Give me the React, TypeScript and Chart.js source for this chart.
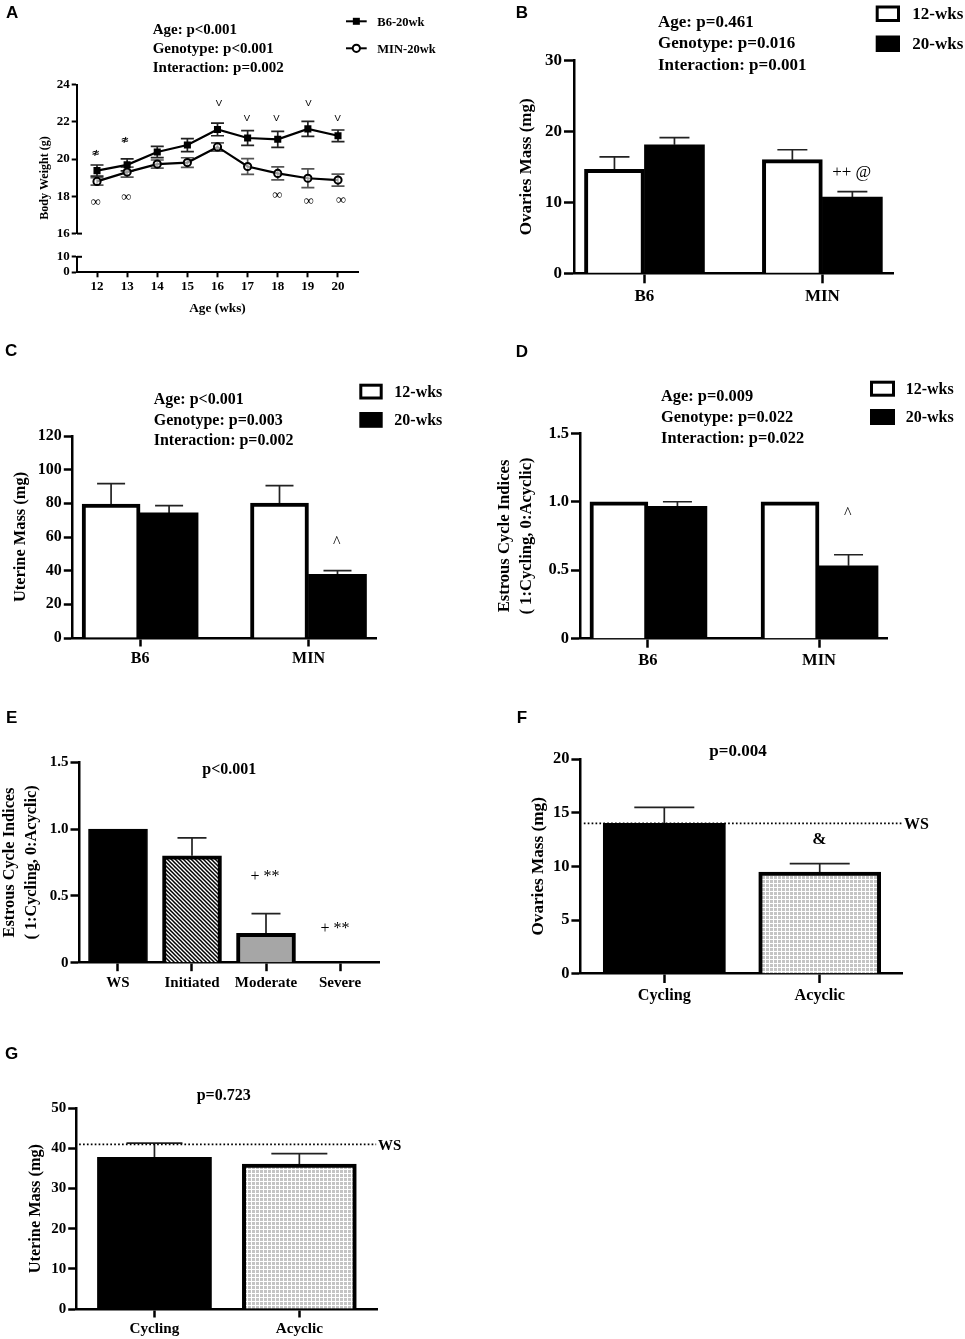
import { useEffect, useRef } from "react"
import { Chart, registerables } from "chart.js"

Chart.register(...registerables)
Chart.defaults.color = "#000"

const SERIF = "'Liberation Serif'"
const SANS = "'Liberation Sans'"

// Panel A
const weeks = [12, 13, 14, 15, 16, 17, 18, 19, 20]
const b6Weight = [19.38, 19.69, 20.38, 20.75, 21.59, 21.13, 21.06, 21.62, 21.25]
const b6WeightErr = [0.3, 0.32, 0.3, 0.35, 0.34, 0.4, 0.43, 0.4, 0.31]
const minWeight = [18.8, 19.3, 19.73, 19.81, 20.65, 19.6, 19.23, 18.97, 18.87]
const minWeightErr = [0.2, 0.27, 0.22, 0.26, 0.22, 0.42, 0.35, 0.5, 0.32]

// Panels B, C, D
const genotypes = ["B6", "MIN"]
const ovaries12 = [14.65, 16]
const ovaries12Err = [1.75, 1.4]
const ovaries20 = [18.1, 10.75]
const ovaries20Err = [1, 0.75]
const uterine12 = [79.6, 80.2]
const uterine12Err = [12.1, 10.3]
const uterine20 = [74.3, 37.8]
const uterine20Err = [4.3, 2.2]
const cycle12 = [1, 1]
const cycle12Err = [0, 0]
const cycle20 = [0.967, 0.533]
const cycle20Err = [0.033, 0.08]

// Panel E
const severity = ["WS", "Initiated", "Moderate", "Severe"]
const severityCycle = [1, 0.8, 0.22, 0]
const severityCycleErr = [0, 0.135, 0.147, 0]

// Panels F, G
const cycleStatus = ["Cycling", "Acyclic"]
const statusOvaries = [14, 9.47]
const statusOvariesErr = [1.5, 0.78]
const statusUterine = [37.8, 36.1]
const statusUterineErr = [3.5, 2.6]
const wsOvaries = 14
const wsUterine = 41

const points = (values: number[]) => values.map((y, i) => ({ x: i + 1, y }))
const positions = (labels: string[]) => labels.map((_, i) => i + 1)

function tile(size: number, paint: (c: CanvasRenderingContext2D) => void) {
  const el = document.createElement("canvas")
  el.width = size
  el.height = size
  const c = el.getContext("2d")!
  c.fillStyle = "#fff"
  c.fillRect(0, 0, size, size)
  paint(c)
  return c.createPattern(el, "repeat")!
}

const hatch = () =>
  tile(4, (c) => {
    c.strokeStyle = "#000"
    c.lineWidth = 1.5
    c.beginPath()
    c.moveTo(-1, -1)
    c.lineTo(5, 5)
    c.moveTo(-1, 3)
    c.lineTo(1, 5)
    c.moveTo(3, -1)
    c.lineTo(5, 1)
    c.stroke()
  })

const dots = () =>
  tile(4, (c) => {
    c.fillStyle = "#c4c4c4"
    c.fillRect(0, 0, 3, 3)
  })

const openBars = (values: number[], errors: number[], capWidth: number, barThickness: number) => ({
  type: "bar",
  data: points(values),
  errors,
  capWidth,
  barThickness,
  backgroundColor: "#fff",
  borderColor: "#000",
  borderWidth: 4,
  order: 1,
})

const solidBars = (values: number[], errors: number[], capWidth: number, barThickness: number) => ({
  type: "bar",
  data: points(values),
  errors,
  capWidth,
  barThickness,
  backgroundColor: "#000",
  borderWidth: 0,
  order: 1,
})

const wsLine = (value: number, from: number, to: number) => ({
  type: "line",
  data: [
    { x: from, y: value },
    { x: to, y: value },
  ],
  borderColor: "#000",
  borderWidth: 1.8,
  borderDash: [1.7, 2.2],
  pointRadius: 0,
  order: 0,
})

const stat = (text: string, x: number, y: number, size: number, weight = "bold", align = "left") => ({
  text,
  x,
  y,
  size,
  weight,
  align,
})

const stats = (lines: string[], x: number, ys: number[], size: number) =>
  lines.map((line, i) => stat(line, x, ys[i], size))

const letter = (text: string, x: number, y: number) => ({
  text,
  x,
  y,
  size: 17,
  weight: "bold",
  align: "left",
  family: SANS,
})

const boxLegend = (x: number, w: number, h: number, ys: number[], textX: number, textYs: number[], size: number) => ({
  swatches: [
    { x, y: ys[0], w, h, open: true },
    { x, y: ys[1], w, h, open: false },
  ],
  texts: [stat("12-wks", textX, textYs[0], size), stat("20-wks", textX, textYs[1], size)],
})

function buildPanels() {
  const legendB = boxLegend(875.7, 24.3, 16.5, [5.5, 35.5], 912.3, [13.7, 43.3], 17)
  const legendC = boxLegend(359.3, 23.4, 15.8, [383.7, 412], 394.3, [391.7, 420], 16)
  const legendD = boxLegend(870, 25, 16, [380.7, 409], 905.7, [389, 417], 16)

  return [
    // A, upper part of the broken axis
    {
      rect: { x: 0, y: 0, w: 480, h: 247 },
      plot: { l: 77, t: 84.5, r: 358, b: 240.3 },
      yMin: 16,
      yMax: 24,
      yStep: 2,
      xMin: 11.336,
      xMax: 20.664,
      xTicks: null,
      tickSize: 13,
      tickLen: 5.3,
      axisWidth: 2,
      breakValue: 16,
      datasets: [
        {
          type: "line",
          data: weeks.map((x, i) => ({ x, y: b6Weight[i] })),
          errors: b6WeightErr,
          capWidth: 13,
          twoSided: true,
          borderColor: "#000",
          borderWidth: 2.2,
          tension: 0,
          pointStyle: "rect",
          pointRadius: 5,
          pointBackgroundColor: "#000",
          pointBorderWidth: 0,
        },
        {
          type: "line",
          data: weeks.map((x, i) => ({ x, y: minWeight[i] })),
          errors: minWeightErr,
          capWidth: 13,
          errColor: "#555",
          twoSided: true,
          borderColor: "#000",
          borderWidth: 2.2,
          tension: 0,
          pointStyle: "circle",
          pointRadius: 3.6,
          pointBackgroundColor: "rgba(255,255,255,0.6)",
          pointBorderColor: "#000",
          pointBorderWidth: 2,
        },
      ],
      texts: [
        letter("A", 6, 12.7),
        ...stats(["Age: p<0.001", "Genotype: p<0.001", "Interaction: p=0.002"], 152.7, [29.3, 48.3, 67.3], 15),
        stat("B6-20wk", 377.3, 21.3, 12.5),
        stat("MIN-20wk", 377.3, 48.3, 12.5),
        { ...stat("Body Weight (g)", 44, 178, 12, "bold", "center"), rotate: true },
        { ...stat("≉", 95.7, 152.3, 10, "bold", "center"), family: "'DejaVu Sans'" },
        { ...stat("≉", 125, 139, 10, "bold", "center"), family: "'DejaVu Sans'" },
        stat("∞", 95.7, 201.3, 14, "normal", "center"),
        stat("∞", 126.3, 196, 14, "normal", "center"),
        stat("∞", 277.3, 194.3, 14, "normal", "center"),
        stat("∞", 308.7, 200.3, 14, "normal", "center"),
        stat("∞", 341, 199, 14, "normal", "center"),
        { ...stat("V", 219, 102, 9.5, "normal", "center"), family: SANS },
        { ...stat("V", 247, 117.3, 9.5, "normal", "center"), family: SANS },
        { ...stat("V", 276.3, 117.3, 9.5, "normal", "center"), family: SANS },
        { ...stat("V", 308.3, 102, 9.5, "normal", "center"), family: SANS },
        { ...stat("V", 337.7, 117.3, 9.5, "normal", "center"), family: SANS },
      ],
      keys: [
        { x1: 346, x2: 366.7, y: 21.3, marker: "square" },
        { x1: 346, x2: 366.7, y: 48.3, marker: "circle" },
      ],
    },
    // A, lower part of the broken axis with the week labels
    {
      rect: { x: 0, y: 247, w: 480, h: 70 },
      plot: { l: 77, t: 254.7, r: 358, b: 272 },
      yMin: 0,
      yMax: 10,
      yStep: 10,
      xMin: 11.336,
      xMax: 20.664,
      xTicks: weeks,
      xLabels: weeks.map(String),
      xFont: 13,
      xPad: 1.7,
      xTitle: "Age (wks)",
      tickSize: 13,
      tickLen: 5.3,
      axisWidth: 2,
      breakValue: 10,
      datasets: [{ type: "line", data: [] }],
    },
    // B
    {
      rect: { x: 490, y: 0, w: 475, h: 330 },
      plot: { l: 574, t: 60.3, r: 893, b: 273.3 },
      yMin: 0,
      yMax: 30,
      yStep: 10,
      xMin: 0.604,
      xMax: 2.397,
      xTicks: positions(genotypes),
      xLabels: genotypes,
      xFont: 17,
      xPad: 3,
      tickSize: 17,
      tickLen: 10,
      axisWidth: 2.5,
      yTitle: "Ovaries Mass (mg)",
      titleSize: 17,
      titleX: 527,
      titleLine: 20,
      datasets: [openBars(ovaries12, ovaries12Err, 30, 60), solidBars(ovaries20, ovaries20Err, 30, 60)],
      swatches: legendB.swatches,
      texts: [
        letter("B", 515.7, 12),
        ...stats(["Age: p=0.461", "Genotype: p=0.016", "Interaction: p=0.001"], 658, [21.7, 42.7, 64.3], 17),
        ...legendB.texts,
        stat("++ @", 851.7, 171.7, 17, "normal", "center"),
      ],
    },
    // C
    {
      rect: { x: 0, y: 340, w: 480, h: 340 },
      plot: { l: 72.3, t: 436, r: 376.7, b: 638 },
      yMin: 0,
      yMax: 120,
      yStep: 20,
      xMin: 0.5975,
      xMax: 2.405,
      xTicks: positions(genotypes),
      xLabels: genotypes,
      xFont: 16,
      xPad: 2.7,
      tickSize: 16,
      tickLen: 8.5,
      axisWidth: 2.5,
      yTitle: "Uterine Mass (mg)",
      titleSize: 16.4,
      titleX: 21,
      titleLine: 20,
      datasets: [openBars(uterine12, uterine12Err, 28, 58), solidBars(uterine20, uterine20Err, 28, 58)],
      swatches: legendC.swatches,
      texts: [
        letter("C", 5, 350.7),
        ...stats(["Age: p<0.001", "Genotype: p=0.003", "Interaction: p=0.002"], 153.7, [399.3, 419.7, 440], 16),
        ...legendC.texts,
        stat("^", 336.7, 542, 16, "normal", "center"),
      ],
    },
    // D
    {
      rect: { x: 490, y: 340, w: 475, h: 340 },
      plot: { l: 580, t: 433.3, r: 887.3, b: 638.7 },
      yMin: 0,
      yMax: 1.5,
      yStep: 0.5,
      xMin: 0.603,
      xMax: 2.399,
      xTicks: positions(genotypes),
      xLabels: genotypes,
      xFont: 16.5,
      xPad: 2.7,
      tickSize: 16.5,
      tickLen: 9,
      axisWidth: 2.5,
      yTitle: ["Estrous Cycle Indices", "( 1:Cycling, 0:Acyclic)"],
      titleSize: 16.6,
      titleX: 505,
      titleLine: 22,
      datasets: [openBars(cycle12, cycle12Err, 29, 58), solidBars(cycle20, cycle20Err, 29, 59)],
      swatches: legendD.swatches,
      texts: [
        letter("D", 515.7, 351),
        ...stats(["Age: p=0.009", "Genotype: p=0.022", "Interaction: p=0.022"], 661, [396, 417, 437.7], 16.4),
        ...legendD.texts,
        stat("^", 847.7, 513, 16, "normal", "center"),
      ],
    },
    // E
    {
      rect: { x: -8, y: 700, w: 488, h: 310 },
      plot: { l: 79, t: 762.3, r: 379, b: 962.7 },
      yMin: 0,
      yMax: 1.5,
      yStep: 0.5,
      xMin: 0.473,
      xMax: 4.527,
      xTicks: positions(severity),
      xLabels: severity,
      xFont: 15,
      xPad: 3.3,
      tickSize: 15,
      tickLen: 8.5,
      axisWidth: 2.5,
      yTitle: ["Estrous Cycle Indices", "( 1:Cycling, 0:Acyclic)"],
      titleSize: 16.3,
      titleX: 10,
      titleLine: 21.7,
      datasets: [
        {
          type: "bar",
          data: points(severityCycle),
          errors: severityCycleErr,
          capWidth: 29,
          barThickness: 59,
          backgroundColor: ["#000", hatch(), "#a6a6a6", "rgba(0,0,0,0)"],
          borderColor: "#000",
          borderWidth: [1, 4, 4, 0],
        },
      ],
      texts: [
        letter("E", 6, 717),
        stat("p<0.001", 229.3, 768.7, 16, "bold", "center"),
        stat("+ **", 265, 876, 16, "normal", "center"),
        stat("+ **", 335, 927.3, 16, "normal", "center"),
      ],
    },
    // F
    {
      rect: { x: 490, y: 700, w: 475, h: 310 },
      plot: { l: 580.7, t: 759, r: 902.7, b: 973.7 },
      yMin: 0,
      yMax: 20,
      yStep: 5,
      xMin: 0.462,
      xMax: 2.534,
      xTicks: positions(cycleStatus),
      xLabels: cycleStatus,
      xFont: 16.2,
      xPad: 2.8,
      tickSize: 16.5,
      tickLen: 9.3,
      axisWidth: 2.5,
      yTitle: "Ovaries Mass (mg)",
      titleSize: 17.2,
      titleX: 539,
      titleLine: 20,
      datasets: [
        wsLine(wsOvaries, 0.482, 2.528),
        {
          type: "bar",
          data: points(statusOvaries),
          errors: statusOvariesErr,
          capWidth: 60,
          barThickness: 122,
          backgroundColor: ["#000", dots()],
          borderColor: "#000",
          borderWidth: [0, 4],
          order: 1,
        },
      ],
      texts: [
        letter("F", 516.7, 717),
        stat("p=0.004", 738, 750.7, 17, "bold", "center"),
        stat("&", 819.3, 839, 17, "bold", "center"),
        stat("WS", 904, 824, 16),
      ],
    },
    // G
    {
      rect: { x: 0, y: 1030, w: 480, h: 309 },
      plot: { l: 76.7, t: 1108.3, r: 377.3, b: 1309 },
      yMin: 0,
      yMax: 50,
      yStep: 10,
      xMin: 0.4634,
      xMax: 2.538,
      xTicks: positions(cycleStatus),
      xLabels: cycleStatus,
      xFont: 15.2,
      xPad: 2.9,
      tickSize: 15,
      tickLen: 8.5,
      axisWidth: 2.5,
      yTitle: "Uterine Mass (mg)",
      titleSize: 16.3,
      titleX: 36,
      titleLine: 20,
      datasets: [
        wsLine(wsUterine, 0.48, 2.53),
        {
          type: "bar",
          data: points(statusUterine),
          errors: statusUterineErr,
          capWidth: 56,
          barThickness: 114,
          backgroundColor: ["#000", dots()],
          borderColor: "#000",
          borderWidth: [0, 4],
          order: 1,
        },
      ],
      texts: [
        letter("G", 5, 1053),
        stat("p=0.723", 223.7, 1095, 16, "bold", "center"),
        stat("WS", 378, 1145, 15),
      ],
    },
  ]
}

const panels: any[] = buildPanels()

// error bars sit under the marks, computed through the chart's own scales
const errorBars = {
  id: "errorBars",
  beforeDatasetsDraw(chart: any) {
    const ctx = chart.ctx
    const y = chart.scales.y
    chart.data.datasets.forEach((ds: any, i: number) => {
      if (!ds.errors) return
      chart.getDatasetMeta(i).data.forEach((el: any, j: number) => {
        const err = ds.errors[j]
        if (!err) return
        const value = ds.data[j].y
        const top = y.getPixelForValue(value + err)
        const bottom = ds.twoSided ? y.getPixelForValue(value - err) : y.getPixelForValue(value)
        const half = ds.capWidth / 2
        ctx.save()
        ctx.strokeStyle = ds.errColor || "#222"
        ctx.lineWidth = 1.7
        ctx.beginPath()
        ctx.moveTo(el.x, top)
        ctx.lineTo(el.x, bottom)
        ctx.moveTo(el.x - half, top)
        ctx.lineTo(el.x + half, top)
        if (ds.twoSided) {
          ctx.moveTo(el.x - half, bottom)
          ctx.lineTo(el.x + half, bottom)
        }
        ctx.stroke()
        ctx.restore()
      })
    })
  },
}

function makeDecorations(panel: any) {
  return {
    id: "decorations",
    afterDraw(chart: any) {
      const ctx = chart.ctx
      ctx.save()
      if (panel.breakValue !== undefined) {
        const y = chart.scales.y.getPixelForValue(panel.breakValue)
        ctx.strokeStyle = "#000"
        ctx.lineWidth = panel.axisWidth
        ctx.beginPath()
        ctx.moveTo(chart.chartArea.left, y)
        ctx.lineTo(chart.chartArea.left + 5, y)
        ctx.stroke()
      }
      ctx.translate(-panel.rect.x, -panel.rect.y)
      for (const s of panel.swatches || []) {
        ctx.fillStyle = "#000"
        ctx.fillRect(s.x, s.y, s.w, s.h)
        if (s.open) {
          ctx.fillStyle = "#fff"
          ctx.fillRect(s.x + 3, s.y + 3, s.w - 6, s.h - 6)
        }
      }
      for (const k of panel.keys || []) {
        const mid = (k.x1 + k.x2) / 2
        ctx.strokeStyle = "#000"
        ctx.lineWidth = 2
        ctx.beginPath()
        ctx.moveTo(k.x1, k.y)
        ctx.lineTo(k.x2, k.y)
        ctx.stroke()
        if (k.marker === "square") {
          ctx.fillStyle = "#000"
          ctx.fillRect(mid - 3.5, k.y - 3.5, 7, 7)
        } else {
          ctx.fillStyle = "#fff"
          ctx.beginPath()
          ctx.arc(mid, k.y, 3.6, 0, Math.PI * 2)
          ctx.fill()
          ctx.stroke()
        }
      }
      ctx.fillStyle = "#000"
      ctx.textBaseline = "middle"
      for (const t of panel.texts || []) {
        ctx.save()
        ctx.font = `${t.weight} ${t.size}px ${t.family || SERIF}`
        ctx.textAlign = t.align
        ctx.translate(t.x, t.y)
        if (t.rotate) ctx.rotate(-Math.PI / 2)
        ctx.fillText(t.text, 0, 1)
        ctx.restore()
      }
      ctx.restore()
    },
  }
}

function Panel({ panel }: { panel: any }) {
  const chartRef = useRef<HTMLCanvasElement>(null)
  const { rect, plot } = panel

  useEffect(() => {
    if (!chartRef.current) return
    const hasXAxis = !!panel.xTicks
    const lead = panel.yTitle ? panel.titleX - rect.x - panel.titleLine / 2 : 0
    const titleFontSize = panel.titleSize || 12

    const chart = new Chart(chartRef.current, {
      type: "bar",
      data: { datasets: panel.datasets },
      options: {
        responsive: false,
        animation: false,
        layout: {
          padding: {
            left: lead,
            top: plot.t - rect.y,
            right: rect.x + rect.w - plot.r,
            bottom: hasXAxis ? 0 : rect.y + rect.h - plot.b,
          },
        },
        plugins: { legend: { display: false }, tooltip: { enabled: false } },
        scales: {
          x: {
            type: "linear",
            display: hasXAxis,
            offset: false,
            min: panel.xMin,
            max: panel.xMax,
            afterFit: (s: any) => {
              s.height = rect.y + rect.h - plot.b
            },
            afterBuildTicks: (s: any) => {
              if (hasXAxis) s.ticks = panel.xTicks.map((value: number) => ({ value }))
            },
            border: { color: "#000", width: panel.axisWidth },
            grid: {
              offset: false,
              drawOnChartArea: false,
              tickLength: panel.tickLen,
              tickColor: "#000",
              tickWidth: panel.axisWidth,
            },
            ticks: {
              autoSkip: false,
              maxRotation: 0,
              padding: panel.xPad,
              color: "#000",
              font: { family: SERIF, size: panel.xFont || 12, weight: "bold" },
              callback: (v: number) => (hasXAxis ? panel.xLabels[panel.xTicks.indexOf(v)] : ""),
            },
            title: {
              display: !!panel.xTitle,
              text: panel.xTitle,
              color: "#000",
              padding: 0,
              font: { family: SERIF, size: 13.3, weight: "bold" },
            },
          },
          y: {
            min: panel.yMin,
            max: panel.yMax,
            afterFit: (s: any) => {
              s.width = plot.l - rect.x - lead
            },
            border: { color: "#000", width: panel.axisWidth },
            grid: {
              drawOnChartArea: false,
              tickLength: panel.tickLen,
              tickColor: "#000",
              tickWidth: panel.axisWidth,
            },
            ticks: {
              autoSkip: false,
              stepSize: panel.yStep,
              padding: 2,
              color: "#000",
              font: { family: SERIF, size: panel.tickSize, weight: "bold" },
            },
            title: {
              display: !!panel.yTitle,
              text: panel.yTitle,
              color: "#000",
              padding: 0,
              font: {
                family: SERIF,
                size: titleFontSize,
                weight: "bold",
                lineHeight: (panel.titleLine || 14) / titleFontSize,
              },
            },
          },
        },
      },
      plugins: [errorBars, makeDecorations(panel)],
    } as any)

    return () => {
      chart.destroy()
    }
  }, [])

  return (
    <canvas
      ref={chartRef}
      width={rect.w}
      height={rect.h}
      style={{ position: "absolute", left: rect.x, top: rect.y, width: rect.w, height: rect.h }}
    />
  )
}

export default function App() {
  return (
    <div style={{ position: "absolute", left: 0, top: 0, width: 965, height: 1339, background: "#fff", overflow: "hidden" }}>
      {panels.map((panel, i) => (
        <Panel key={i} panel={panel} />
      ))}
    </div>
  )
}
